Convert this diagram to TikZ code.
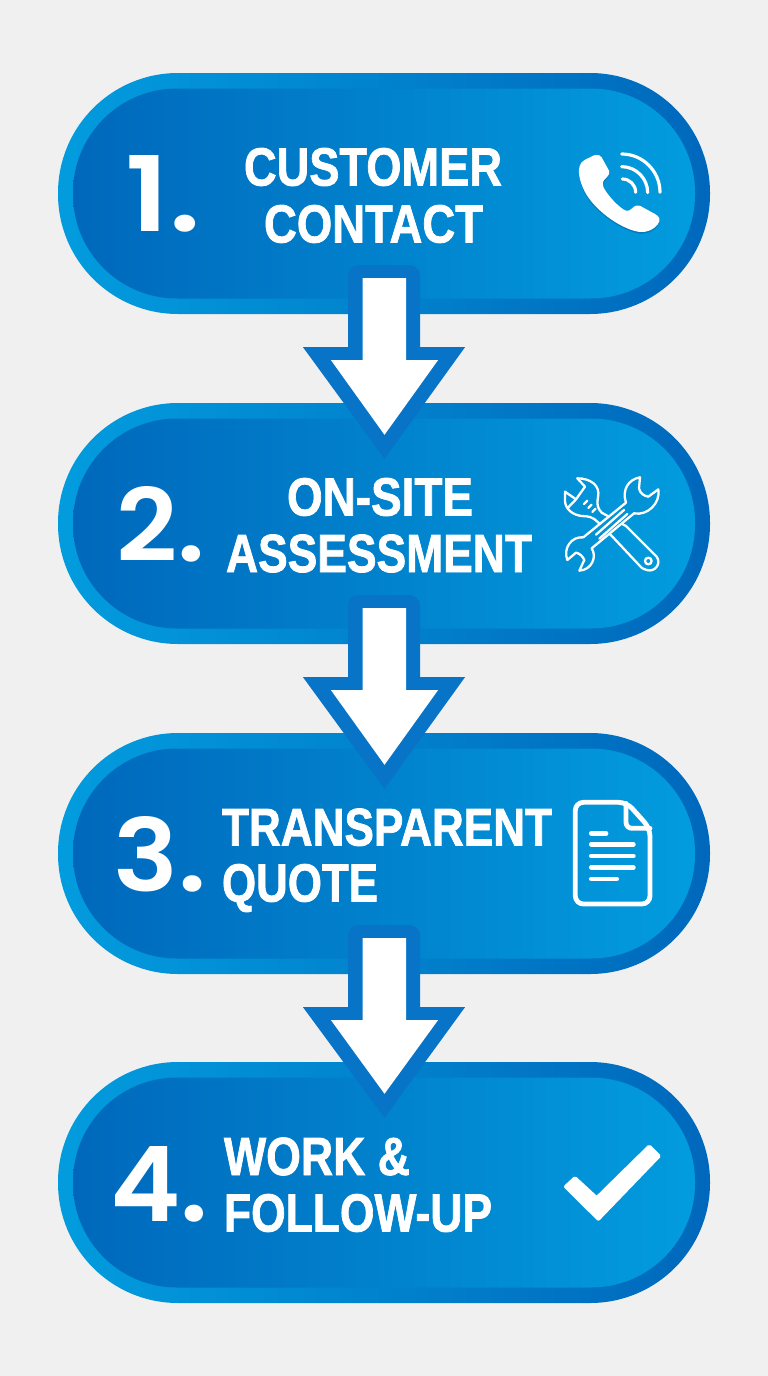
\documentclass[tikz,border=0pt]{standalone}
\usepackage{fontspec}
\usepackage{graphicx}
\setmainfont{Liberation Sans}[Ligatures=TeX,BoldFeatures={FakeBold=1.5}]
\newfontfamily\numfont{Poppins SemiBold}
\usetikzlibrary{calc}
\definecolor{bgc}{RGB}{240,240,240}
\definecolor{lightb}{RGB}{2,156,222}
\definecolor{darkb}{RGB}{0,104,188}
\definecolor{arrowb}{RGB}{8,116,200}
\definecolor{iconbg}{RGB}{2,146,214}
\definecolor{shadowb}{RGB}{0,60,120}
\tikzset{
  x=1pt,y=-1pt,
  ringpill/.style={rectangle,minimum width=652pt,minimum height=241pt,rounded corners=120pt,inner sep=0pt,left color=lightb,right color=darkb,draw=none},
  corepill/.style={rectangle,minimum width=622pt,minimum height=210pt,rounded corners=104pt,inner sep=0pt,left color=darkb,right color=lightb,draw=none},
  numlabel/.style={text=white,inner sep=0pt,font=\numfont\fontsize{100}{100}\selectfont},
  steplabel/.style={text=white,inner sep=0pt,anchor=base,font=\bfseries\fontsize{50}{50}\selectfont},
  softstroke/.style={preaction={draw=shadowb,draw opacity=.25,transform canvas={yshift=-1.5pt}}},
  softfill/.style={preaction={fill=shadowb,fill opacity=.3,transform canvas={yshift=-1.6pt}}},
  iconline/.style={draw=white,line width=2.3pt,line join=round,line cap=round},
  iconfat/.style={draw=white,line width=4.8pt,line join=round,line cap=round,softstroke},
}
\newcommand{\flowarrow}[2]{%
  \fill[arrowb]
    ($(#1.south)+(0,-49)$) [rounded corners=10pt] -- ($(#1.south)+(36,-49)$) [rounded corners=0pt]
    -- ($(#1.south)+(36,33)$) -- ($(#1.south)+(81,33)$)
    -- ($(#2.north)+(0.5,56)$)
    -- ($(#1.south)+(-81,33)$) -- ($(#1.south)+(-36,33)$)
    [rounded corners=10pt] -- ($(#1.south)+(-36,-49)$) [rounded corners=0pt] -- cycle;
  \fill[white]
    ($(#1.south)+(-21.5,-36)$) -- ($(#1.south)+(22,-36)$)
    -- ($(#1.south)+(22,46)$) -- ($(#1.south)+(54,46)$)
    -- ($(#2.north)+(0.5,32)$)
    -- ($(#1.south)+(-53,46)$) -- ($(#1.south)+(-21.5,46)$) -- cycle;
}
\begin{document}
\begin{tikzpicture}
\useasboundingbox (0,0) rectangle (768,1376);
\fill[bgc] (0,0) rectangle (768,1376);
% pills
\node[ringpill] (p1) at (384,193.5) {};
\node[corepill] (c1) at (384,193.5) {};
\node[ringpill] (p2) at (384,523.5) {};
\node[corepill] (c2) at (384,523.5) {};
\node[ringpill] (p3) at (384,853.5) {};
\node[corepill] (c3) at (384,853.5) {};
\node[ringpill] (p4) at (384,1182.5) {};
\node[corepill] (c4) at (384,1182.5) {};
% arrows
\flowarrow{p1}{p2}
\flowarrow{p2}{p3}
\flowarrow{p3}{p4}
% numbers
\node[numlabel] (n1) at (163,194) {\resizebox{75pt}{76pt}{1.}};
\node[numlabel] (n2) at (160.5,524.5) {\resizebox{89pt}{75pt}{2.}};
\node[numlabel] (n3) at (160,854.5) {\resizebox{93pt}{75pt}{3.}};
\node[numlabel] (n4) at (159.5,1184.5) {\resizebox{98pt}{75pt}{4.}};
% labels
\node[steplabel] (t1a) at (373,185.5) {\resizebox{258pt}{37.5pt}{CUSTOMER}};
\node[steplabel] (t1b) at (373.5,242.5) {\resizebox{219pt}{37.5pt}{CONTACT}};
\node[steplabel] (t2a) at (380,515.5) {\resizebox{186pt}{37.5pt}{ON-SITE}};
\node[steplabel] (t2b) at (379,572) {\resizebox{306pt}{37.5pt}{ASSESSMENT}};
\node[steplabel] (t3a) at (387,845.5) {\resizebox{330pt}{37pt}{TRANSPARENT}};
\node[steplabel] (t3b) at (300,901.5) {\resizebox{156pt}{37.5pt}{QUOTE}};
\node[steplabel] (t4a) at (317,1175) {\resizebox{186pt}{37.5pt}{WORK \&}};
\node[steplabel] (t4b) at (358,1231.5) {\resizebox{268pt}{37.5pt}{FOLLOW-UP}};
% phone icon
\begin{scope}[shift={(540,130)},x=0.3333pt,y=-0.3333pt]
  \fill[white,line join=round,softfill] (150,82) .. controls (165,72) and (178,72) .. (185,82)
    -- (207,122) .. controls (211,134) and (200,142) .. (192,150)
    .. controls (186,158) and (188,170) .. (195,180)
    .. controls (208,200) and (230,225) .. (250,238)
    .. controls (260,245) and (268,243) .. (275,236)
    .. controls (285,226) and (293,224) .. (303,229)
    -- (345,252) .. controls (360,260) and (362,270) .. (354,282)
    .. controls (342,298) and (325,307) .. (300,306)
    .. controls (250,300) and (175,250) .. (140,195)
    .. controls (122,165) and (112,130) .. (119,108)
    .. controls (123,95) and (135,88) .. (150,82) -- cycle;
  \draw[draw=white,line width=3.2pt,line cap=round,softstroke] (245,72) arc[start angle=-90,end angle=0,radius=115];
  \draw[draw=white,line width=3.2pt,line cap=round,softstroke] (245,110) arc[start angle=-90,end angle=0,radius=78];
  \draw[draw=white,line width=3.2pt,line cap=round,softstroke] (247,147) arc[start angle=-90,end angle=0,radius=40];
\end{scope}
% tools icon
\begin{scope}[shift={(540,460)},x=0.3333pt,y=-0.3333pt]
  \draw[iconline] (112,55) .. controls (150,55) and (182,75) .. (174,112)
    .. controls (170,130) and (172,145) .. (185,158)
    -- (258,198) -- (350,290)
    .. controls (365,310) and (345,338) .. (320,330)
    .. controls (312,328) and (305,325) .. (298,316)
    -- (222,235) -- (172,185)
    .. controls (160,172) and (145,168) .. (125,168)
    .. controls (100,165) and (78,150) .. (75,125) -- (75,95) -- (108,118) -- (84,143);
  \draw[iconline] (112,55) -- (135,80) -- (108,118);
  \draw[iconline] (325,303) circle[radius=10];
  \draw[iconline] (132,132) -- (142,122);
  \draw[iconline] (145,144) -- (155,134);
  \draw[iconline] (157,156) -- (167,146);
  \filldraw[fill=iconbg,draw=white,line width=2.3pt,line join=round]
    (300,52) -- (297,85) .. controls (300,100) and (312,108) .. (325,110) -- (355,88)
    .. controls (362,130) and (322,168) .. (282,160)
    -- (155,265)
    .. controls (172,290) and (155,330) .. (118,332)
    -- (133,300) .. controls (128,288) and (118,280) .. (108,278) -- (82,300)
    .. controls (68,265) and (95,228) .. (130,232)
    -- (258,128) .. controls (245,90) and (265,58) .. (300,52) -- cycle;
  \draw[iconline] (252,150) -- (168,224);
  \draw[iconline] (262,162) -- (178,236);
\end{scope}
% document icon
\begin{scope}[shift={(550,790)},x=0.3333pt,y=-0.3333pt]
  \draw[iconfat,rounded corners=8pt] (230,37) -- (76,37) -- (76,342) -- (300,342) -- (300,115) -- cycle;
  \draw[iconfat,rounded corners=6pt] (228,40) -- (228,115) -- (300,115);
  \draw[iconfat] (124,130) -- (168,130);
  \draw[iconfat] (124,163) -- (250,163);
  \draw[iconfat] (124,198) -- (250,198);
  \draw[iconfat] (124,232) -- (250,232);
  \draw[iconfat] (124,267) -- (200,267);
\end{scope}
% check icon
\begin{scope}[shift={(540,1130)},x=0.3333pt,y=-0.3333pt]
  \filldraw[fill=white,draw=white,line width=4pt,line join=round,softfill]
    (78,170) -- (105,145) -- (170,205) -- (328,50) -- (356,78) -- (175,266) -- cycle;
\end{scope}
\end{tikzpicture}
\end{document}
